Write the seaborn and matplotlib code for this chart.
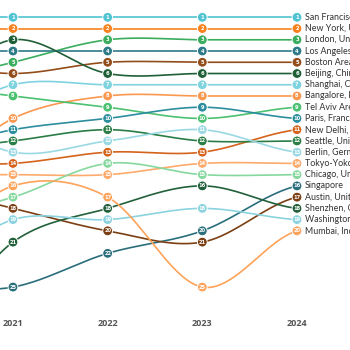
import numpy as np
import pandas as pd
import matplotlib
matplotlib.use('Agg')
import matplotlib.pyplot as plt
import seaborn as sns

years = [2020, 2021, 2022, 2023, 2024]

cities = ['San Francisco, United States', 'New York, United States', 'London, United Kingdom',
          'Los Angeles, United States', 'Boston Area, United States', 'Beijing, China',
          'Shanghai, China', 'Bangalore, India', 'Tel Aviv Area, Israel', 'Paris, France',
          'New Delhi, India', 'Seattle, United States', 'Berlin, Germany',
          'Tokyo-Yokohama, Japan', 'Chicago, United States', 'Singapore',
          'Austin, United States', 'Shenzhen, China', 'Washington DC, United States',
          'Mumbai, India']

# ranks per year (2020 sits just off the left edge)
ranks = [
    [1, 1, 1, 1, 1],
    [2, 2, 2, 2, 2],
    [7, 5, 3, 3, 3],
    [4, 4, 4, 4, 4],
    [5, 6, 5, 5, 5],
    [8, 3, 6, 6, 6],
    [11, 7, 7, 7, 7],
    [16, 10, 8, 8, 8],
    [7, 8, 9, 10, 9],
    [13, 11, 10, 9, 10],
    [14, 14, 13, 13, 11],
    [13, 12, 11, 12, 12],
    [9, 13, 12, 11, 13],
    [15, 15, 15, 14, 14],
    [19, 17, 14, 15, 15],
    [25, 25, 22, 20, 16],
    [16, 18, 20, 21, 17],
    [30, 21, 18, 16, 18],
    [24, 19, 19, 18, 19],
    [22, 16, 17, 25, 20],
]

colors = ['#4fc3d2', '#f7821f', '#3aad5e', '#2d7a89', '#924d1b', '#1f5f37',
          '#7fd3de', '#fb9850', '#4cc171', '#2b8d9e', '#d5631b', '#2a7d45',
          '#9ad9e3', '#fdaa6c', '#86d89e', '#2a6e7b', '#7b3f13', '#22603b',
          '#8ad3df', '#fda35a']


def catmull_rom(x, y, n=40):
    x = np.asarray(x, float)
    y = np.asarray(y, float)
    m = np.zeros_like(y)
    m[1:-1] = (y[2:] - y[:-2]) / 2
    m[0] = (y[1] - y[0]) / 2
    m[-1] = (y[-1] - y[-2]) / 2
    xs, ys = [], []
    for i in range(len(x) - 1):
        t = np.linspace(0, 1, n)
        h00 = 2 * t**3 - 3 * t**2 + 1
        h10 = t**3 - 2 * t**2 + t
        h01 = -2 * t**3 + 3 * t**2
        h11 = t**3 - t**2
        xs.append(x[i] + t * (x[i + 1] - x[i]))
        ys.append(h00 * y[i] + h10 * m[i] + h01 * y[i + 1] + h11 * m[i + 1])
    return np.concatenate(xs), np.concatenate(ys)


rows = []
for city, r in zip(cities, ranks):
    for yr, v in zip(years, r):
        rows.append({'city': city, 'year': yr, 'rank': v})
df = pd.DataFrame(rows)
shown = df[df['year'] >= 2021]

sns.set_theme(style='white')

fig = plt.figure(figsize=(3.5, 3.5), dpi=100)
ax = fig.add_axes([0, 0, 1, 1])

for city, r, c in zip(cities, ranks, colors):
    xs, ys = catmull_rom(years, r)
    ax.plot(xs, ys, color=c, lw=1.2, zorder=2, solid_capstyle='round')

sns.scatterplot(data=shown, x='year', y='rank', hue='city', palette=dict(zip(cities, colors)),
                s=50, edgecolor='white', linewidth=0.7, legend=False, ax=ax, zorder=3)

for _, row in shown.iterrows():
    ax.text(row['year'], row['rank'], str(row['rank']), ha='center', va='center',
            fontsize=3.7, color='white', fontweight='bold', zorder=4)

for city, r in zip(cities, ranks):
    ax.text(2024.085, r[-1], city, ha='left', va='center', fontsize=6.4,
            color='#333333', family=['Lato', 'DejaVu Sans'], zorder=4, clip_on=True)

for yr in years[1:]:
    ax.text(yr, 28.2, str(yr), ha='center', va='center', fontsize=6.5,
            color='#555555', fontweight='bold', family=['Open Sans', 'DejaVu Sans'])

ax.set_xlim(2020.863, 2024.56)
ax.set_ylim(30.6, -0.54)
ax.axis('off')

fig.savefig('out.png', dpi=100)
